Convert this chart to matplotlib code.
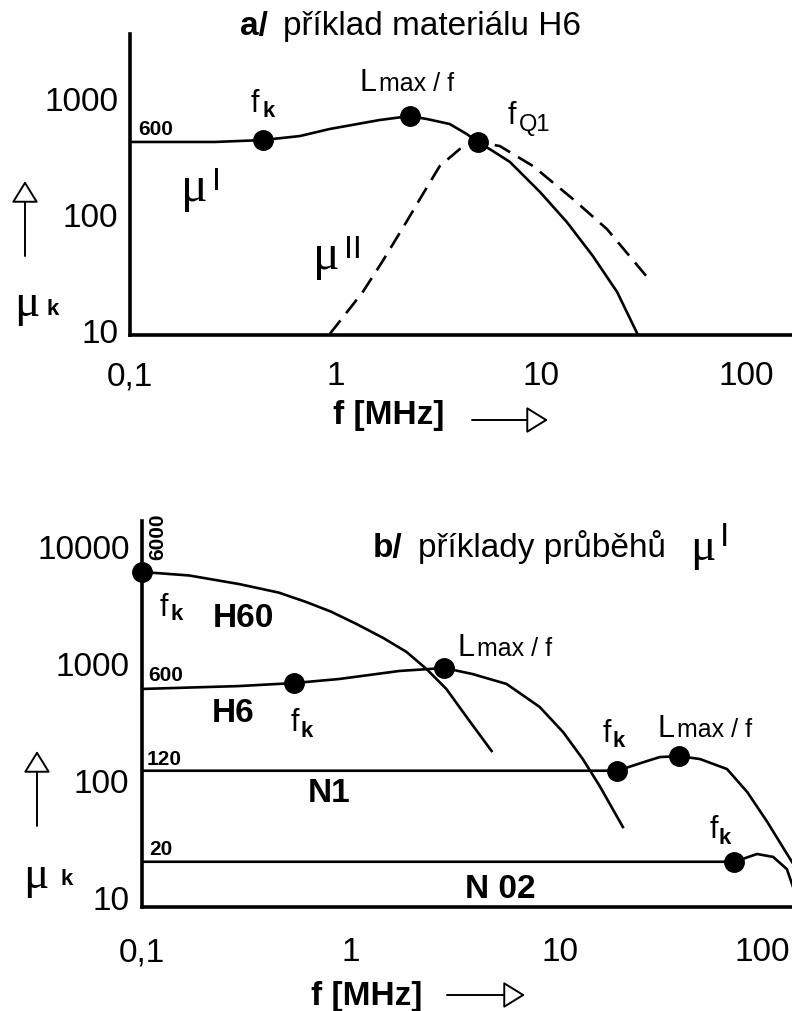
import matplotlib.pyplot as plt
import matplotlib.transforms as mtransforms
from matplotlib.patches import FancyArrowPatch

W, H = 792, 1012
SANS = ['Liberation Sans', 'DejaVu Sans']
SERIF = ['Liberation Serif', 'DejaVu Serif']
plt.rcParams['font.family'] = SANS

# a/ material H6: mu' (solid) and mu'' (dashed), f in MHz
a_f1 = [0.1, 0.259, 0.443, 0.671, 0.939, 1.64, 2.30, 2.79, 3.60, 4.36, 4.94,
        5.84, 7.07, 9.90, 13.4, 17.9, 23.5, 29.4]
a_mu1 = [418, 418, 434, 470, 541, 646, 699, 659, 597, 489, 418,
         349, 281, 155, 85, 43.5, 21.3, 9.4]
a_f2 = [0.939, 1.14, 1.36, 1.70, 2.23, 2.58, 3.22, 4.03, 4.94, 6.32, 9.16,
        14.3, 21.0, 32.9]
a_mu2 = [9.24, 14.3, 21.3, 39.4, 87, 135, 259, 363, 418, 385, 259,
         135, 74, 28.6]
a_dot_f = [0.443, 2.30, 4.94]      # f_k, Lmax/f, f_Q1
a_dot_mu = [434, 699, 418]

# b/ mu' of several materials
h60_f = [0.1, 0.168, 0.291, 0.45, 0.610, 0.80, 1.06, 1.42, 1.84, 2.29, 2.85,
         3.68, 4.69]
h60_mu = [6000, 5600, 4730, 4000, 3320, 2750, 2155, 1640, 1242, 889, 600,
          319, 177]
h6_f = [0.1, 0.291, 0.534, 0.877, 1.70, 2.79, 3.80, 5.53, 7.96, 10.3, 12.8,
        15.4, 19.9]
h6_mu = [600, 635, 674, 730, 855, 906, 805, 662, 421, 257, 151, 89, 39.6]
n1_f = [0.1, 18.7, 25.9, 29.9, 36.9, 46.5, 62.6, 78.2, 97.5, 128]
n1_mu = [120, 120, 145, 157, 160, 151, 124, 78.9, 43.8, 19.9]
n02_f = [0.1, 67.9, 87.1, 104, 121, 132]
n02_mu = [20, 20, 23.3, 22, 17.3, 11.0]
b_dot_f = [0.1, 0.534, 2.79, 18.7, 36.9, 67.9]
b_dot_mu = [6000, 674, 906, 120, 160, 20]

x_ticks = [0.1, 1, 10, 100]
x_labels = ['0,1', '1', '10', '100']
a_yticks = [10, 100, 1000]
b_yticks = [10, 100, 1000, 10000]

fig = plt.figure(figsize=(W / 100, H / 100), dpi=100)


def box(l, t, r, b):
    return [l / W, 1 - b / H, (r - l) / W, (b - t) / H]


def style(ax, xlim, ylim, yticks, ypad, xpad):
    ax.set_xscale('log')
    ax.set_yscale('log')
    ax.set_xlim(*xlim)
    ax.set_ylim(*ylim)
    ax.set_xticks(x_ticks, x_labels)
    ax.set_yticks(yticks, [str(v) for v in yticks])
    ax.minorticks_off()
    for s in ('top', 'right'):
        ax.spines[s].set_visible(False)
    for s in ('left', 'bottom'):
        ax.spines[s].set_linewidth(2.6)
    ax.tick_params(length=0, labelsize=24)
    ax.tick_params(axis='y', pad=ypad)
    ax.tick_params(axis='x', pad=xpad)
    ax.patch.set_alpha(0)


def put(x, y, s, size, weight='normal', family=SANS, **kw):
    kw.setdefault('ha', 'left')
    kw.setdefault('va', 'baseline')
    return fig.text(x / W, 1 - y / H, s, fontsize=size, fontweight=weight,
                    family=family, **kw)


def hollow_arrow(x0, y0, x1, y1):
    fig.add_artist(FancyArrowPatch(
        (x0 / W, 1 - y0 / H), (x1 / W, 1 - y1 / H), transform=fig.transFigure,
        arrowstyle='-|>,head_length=0.68,head_width=0.42', mutation_scale=20,
        fc='white', ec='black', lw=1.4, shrinkA=0, shrinkB=0))


def sub(x, y, main, xs, ys, s, size=22, ssize=16, sweight='bold'):
    put(x, y, main, size)
    put(xs, ys, s, ssize, sweight)


# ---------------- a/ ----------------
ax1 = fig.add_axes(box(130, 35, 792, 336))
style(ax1, (0.1, 167), (9.05, 3565), a_yticks, 8.6, 18)
ax1.plot(a_f1, a_mu1, color='black', lw=1.9)
ax1.plot(a_f2, a_mu2, color='black', lw=1.9, ls=(0, (6.5, 3.5)))
ax1.plot(a_dot_f, a_dot_mu, 'o', color='black', ms=14, zorder=5)

put(240, 35, 'a/', 24, 'bold')
put(283, 35, 'příklad materiálu H6', 24)
put(138, 135, '600', 15, 'bold')
sub(251, 112, 'f', 262, 117, 'k')
put(360, 91, 'L', 22)
put(379, 91, 'max / f', 18)
sub(508, 124, 'f', 519, 131, 'Q1', ssize=17, sweight='normal')
put(181, 201, 'μ', 36, family=SERIF)
put(212, 190, 'I', 23)
put(313, 269, 'μ', 36, family=SERIF)
put(344, 258, 'II', 23)
put(14, 316, 'μ', 34, family=SERIF)
put(47, 315, 'k', 16, 'bold')
hollow_arrow(25, 257, 25, 182)
put(333, 424, 'f [MHz]', 24, 'bold')
hollow_arrow(472, 421, 548, 421)

# ---------------- b/ ----------------
ax2 = fig.add_axes(box(142, 522, 792, 908))
style(ax2, (0.1, 128), (8.21, 16360), b_yticks, 9, 21)
for f, mu in [(h60_f, h60_mu), (h6_f, h6_mu), (n1_f, n1_mu), (n02_f, n02_mu)]:
    ax2.plot(f, mu, color='black', lw=1.9)
ax2.plot(b_dot_f, b_dot_mu, 'o', color='black', ms=14, zorder=5, clip_on=False)
# keep the last frequency label inside the picture
last = ax2.get_xticklabels()[-1]
last.set_transform(last.get_transform()
                   + mtransforms.ScaledTranslation(-5 / 72, 0, fig.dpi_scale_trans))

put(373, 557, 'b/', 24, 'bold')
put(418, 557, 'příklady průběhů', 24)
put(690, 560, 'μ', 34, family=SERIF)
put(720, 546, 'I', 24)
put(158, 537, '6000', 15, 'bold', rotation=90, ha='center', va='center')
sub(160, 616, 'f', 170, 620, 'k')
put(213, 627, 'H60', 24, 'bold')
put(148, 681, '600', 15, 'bold')
put(212, 722, 'H6', 24, 'bold')
sub(291, 731, 'f', 301, 737, 'k')
put(147, 765, '120', 15, 'bold')
put(458, 656, 'L', 22)
put(477, 656, 'max / f', 18)
put(308, 802, 'N1', 24, 'bold')
sub(603, 742, 'f', 612, 747, 'k')
put(658, 737, 'L', 22)
put(677, 737, 'max / f', 18)
sub(710, 838, 'f', 719, 844, 'k')
put(149, 855, '20', 15, 'bold')
put(465, 898, 'N 02', 24, 'bold')
put(23, 888, 'μ', 34, family=SERIF)
put(60, 885, 'k', 16, 'bold')
hollow_arrow(37, 827, 37, 752)
put(311, 1005, 'f [MHz]', 24, 'bold')
hollow_arrow(447, 996, 525, 996)

fig.savefig('out.png', dpi=100)
